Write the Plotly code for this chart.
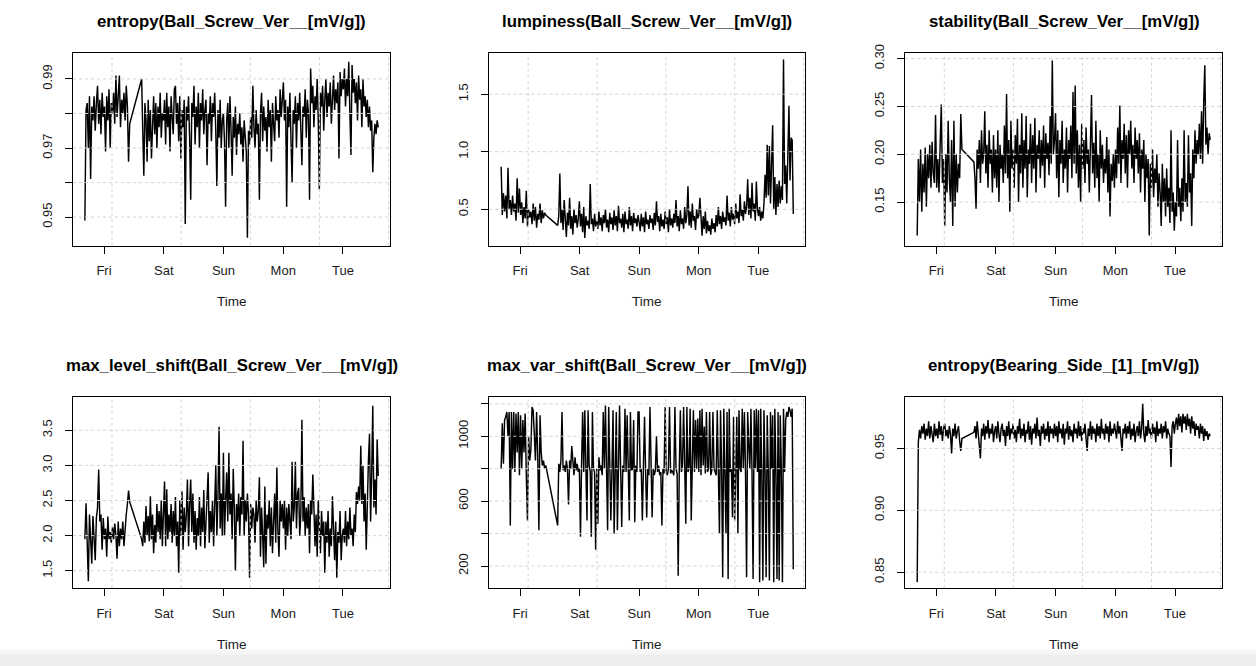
import numpy as np
import plotly.graph_objects as go

# ---------------- data (time in days, Fri 00:00 = 0) ----------------
seg_a_start, seg_a_end = -0.32, 0.43
seg_b_start, seg_b_end = 0.63, 4.59

day_ticks = [0, 1, 2, 3, 4]
day_labels = ["Fri", "Sat", "Sun", "Mon", "Tue"]

titles = [
    "entropy(Ball_Screw_Ver__[mV/g])",
    "lumpiness(Ball_Screw_Ver__[mV/g])",
    "stability(Ball_Screw_Ver__[mV/g])",
    "max_level_shift(Ball_Screw_Ver__[mV/g])",
    "max_var_shift(Ball_Screw_Ver__[mV/g])",
    "entropy(Bearing_Side_[1]_[mV/g])",
]

entropy_bs_a = [0.949, 0.981, 0.983, 0.970, 0.985, 0.961, 0.982, 0.978, 0.985, 0.975,
                0.983, 0.988, 0.977, 0.984, 0.974, 0.986, 0.979, 0.982, 0.969, 0.985,
                0.978, 0.987, 0.970, 0.983, 0.980, 0.986, 0.977, 0.991, 0.979, 0.985,
                0.991, 0.976, 0.984, 0.980, 0.986, 0.978, 0.988, 0.982, 0.966, 0.977]
entropy_bs_b = [0.990, 0.975, 0.962, 0.983, 0.978, 0.966, 0.984, 0.972, 0.981, 0.967,
                0.979, 0.985, 0.974, 0.983, 0.970, 0.982, 0.976, 0.986, 0.973, 0.980,
                # Sat
                0.978, 0.984, 0.971, 0.986, 0.976, 0.982, 0.969, 0.985, 0.979, 0.974, 0.987,
                0.988, 0.977, 0.983, 0.972, 0.985, 0.967, 0.981, 0.976, 0.984, 0.948, 0.982,
                0.978, 0.985, 0.973, 0.955, 0.983, 0.979, 0.988, 0.971, 0.982, 0.976, 0.986,
                0.970, 0.983, 0.978, 0.987, 0.974, 0.981, 0.984, 0.965, 0.980, 0.977, 0.985,
                0.972, 0.983, 0.979, 0.986, 0.975, 0.959, 0.981, 0.973, 0.984, 0.970, 0.978,
                # Sun
                0.980, 0.972, 0.953, 0.978, 0.983, 0.970, 0.985, 0.975, 0.962, 0.979, 0.973,
                0.982, 0.968, 0.977, 0.974, 0.980, 0.971, 0.976, 0.966, 0.978, 0.973, 0.969,
                0.944, 0.975, 0.971, 0.979, 0.973, 0.988, 0.976, 0.970, 0.981, 0.974, 0.977,
                0.955, 0.980, 0.986, 0.972, 0.982, 0.975, 0.979, 0.969, 0.984, 0.976, 0.981,
                0.966, 0.983, 0.977, 0.972, 0.985, 0.978, 0.981, 0.973, 0.987, 0.979, 0.984,
                # Mon
                0.989, 0.978, 0.984, 0.953, 0.982, 0.976, 0.986, 0.972, 0.960, 0.981, 0.977,
                0.985, 0.970, 0.983, 0.978, 0.986, 0.974, 0.965, 0.982, 0.979, 0.987, 0.973,
                0.984, 0.980, 0.955, 0.993, 0.983, 0.988, 0.976, 0.985, 0.981, 0.990, 0.978,
                0.958, 0.986, 0.982, 0.988, 0.975, 0.984, 0.990, 0.979, 0.986, 0.982, 0.989,
                0.977, 0.985, 0.991, 0.981, 0.987, 0.983, 0.989, 0.967, 0.992, 0.985, 0.990,
                # Tue
                0.987, 0.993, 0.982, 0.990, 0.985, 0.995, 0.980, 0.968, 0.994, 0.986, 0.990,
                0.983, 0.989, 0.978, 0.991, 0.984, 0.987, 0.976, 0.990, 0.982, 0.985, 0.979,
                0.984, 0.976, 0.982, 0.975, 0.978, 0.963, 0.973, 0.977, 0.974, 0.978, 0.976]

lumpiness_a = [0.87, 0.45, 0.64, 0.48, 0.62, 0.42, 0.86, 0.50, 0.58, 0.45,
               0.62, 0.48, 0.55, 0.40, 0.77, 0.47, 0.68, 0.45, 0.56, 0.38,
               0.52, 0.42, 0.66, 0.35, 0.50, 0.43, 0.48, 0.37, 0.55, 0.40,
               0.52, 0.34, 0.46, 0.41, 0.55, 0.38, 0.49, 0.42, 0.47, 0.45]
lumpiness_b = [0.36, 0.44, 0.81, 0.38, 0.50, 0.32, 0.58, 0.40, 0.26, 0.47,
               0.36, 0.60, 0.33, 0.44, 0.28, 0.50, 0.38, 0.45, 0.34, 0.42,
               # Sat
               0.57, 0.35, 0.46, 0.30, 0.52, 0.25, 0.44, 0.36, 0.40, 0.33, 0.72,
               0.37, 0.42, 0.31, 0.46, 0.35, 0.40, 0.33, 0.48, 0.36, 0.43, 0.31,
               0.45, 0.38, 0.50, 0.34, 0.41, 0.30, 0.47, 0.37, 0.43, 0.32, 0.49,
               0.36, 0.44, 0.31, 0.53, 0.38, 0.42, 0.34, 0.46, 0.30, 0.48, 0.37,
               0.41, 0.33, 0.52, 0.36, 0.44, 0.31, 0.47, 0.38, 0.42, 0.35, 0.45,
               # Sun
               0.39, 0.31, 0.46, 0.35, 0.43, 0.30, 0.48, 0.37, 0.41, 0.33, 0.45,
               0.38, 0.42, 0.32, 0.47, 0.36, 0.57, 0.39, 0.44, 0.31, 0.46, 0.35,
               0.41, 0.33, 0.48, 0.37, 0.43, 0.30, 0.50, 0.36, 0.42, 0.34, 0.46,
               0.38, 0.58, 0.35, 0.44, 0.31, 0.49, 0.37, 0.42, 0.33, 0.52, 0.38,
               0.45, 0.70, 0.36, 0.48, 0.34, 0.55, 0.40, 0.44, 0.32, 0.50, 0.42,
               # Mon
               0.45, 0.60, 0.38, 0.27, 0.44, 0.33, 0.48, 0.29, 0.40, 0.31, 0.36,
               0.28, 0.42, 0.33, 0.38, 0.30, 0.45, 0.35, 0.52, 0.37, 0.44, 0.33,
               0.48, 0.39, 0.43, 0.36, 0.62, 0.40, 0.47, 0.35, 0.52, 0.41, 0.46,
               0.37, 0.55, 0.42, 0.48, 0.38, 0.63, 0.44, 0.50, 0.40, 0.57, 0.46,
               0.52, 0.76, 0.45, 0.60, 0.42, 0.73, 0.48, 0.55, 0.40, 0.74, 0.50,
               # Tue
               0.44, 0.52, 0.40, 0.48, 0.42, 0.55, 0.80, 0.60, 1.06, 0.62, 1.05,
               0.55, 0.90, 1.23, 0.50, 0.78, 0.45, 0.72, 0.52, 0.75, 0.55, 0.70,
               0.58, 1.80, 0.72, 0.88, 0.55, 1.15, 1.40, 0.75, 1.12, 1.10, 0.46]

stability_a = [0.115, 0.195, 0.150, 0.205, 0.140, 0.190, 0.160, 0.207, 0.145, 0.200,
               0.175, 0.210, 0.165, 0.213, 0.180, 0.170, 0.241, 0.165, 0.195, 0.160,
               0.210, 0.252, 0.170, 0.195, 0.125, 0.200, 0.160, 0.235, 0.175, 0.150,
               0.215, 0.125, 0.235, 0.145, 0.200, 0.160, 0.190, 0.175, 0.242, 0.205]
stability_b = [0.192, 0.175, 0.143, 0.205, 0.185, 0.215, 0.170, 0.225, 0.190, 0.200,
               0.245, 0.180, 0.210, 0.165, 0.225, 0.190, 0.205, 0.160, 0.220, 0.175,
               # Sat
               0.205, 0.165, 0.225, 0.150, 0.210, 0.185, 0.200, 0.170, 0.230, 0.180, 0.263,
               0.175, 0.215, 0.140, 0.235, 0.185, 0.205, 0.165, 0.220, 0.190, 0.237, 0.150,
               0.210, 0.180, 0.243, 0.165, 0.215, 0.185, 0.240, 0.155, 0.205, 0.190, 0.232,
               0.170, 0.220, 0.185, 0.238, 0.160, 0.210, 0.195, 0.225, 0.175, 0.215, 0.188,
               0.230, 0.165, 0.222, 0.195, 0.212, 0.178, 0.240, 0.190, 0.298, 0.200, 0.215,
               # Sun
               0.243, 0.175, 0.225, 0.155, 0.215, 0.190, 0.235, 0.170, 0.205, 0.185, 0.228,
               0.160, 0.215, 0.195, 0.230, 0.175, 0.265, 0.190, 0.272, 0.180, 0.225, 0.165,
               0.210, 0.150, 0.232, 0.185, 0.215, 0.170, 0.228, 0.190, 0.205, 0.160, 0.220,
               0.262, 0.180, 0.212, 0.165, 0.235, 0.175, 0.200, 0.150, 0.225, 0.185, 0.210,
               0.170, 0.195, 0.180, 0.218, 0.160, 0.205, 0.135, 0.190, 0.172, 0.200, 0.165,
               # Mon
               0.205, 0.175, 0.228, 0.190, 0.251, 0.170, 0.215, 0.195, 0.232, 0.180, 0.220,
               0.165, 0.225, 0.200, 0.235, 0.185, 0.210, 0.170, 0.228, 0.195, 0.215, 0.180,
               0.222, 0.160, 0.205, 0.185, 0.215, 0.150, 0.200, 0.175, 0.195, 0.115, 0.190,
               0.165, 0.205, 0.155, 0.185, 0.170, 0.200, 0.145, 0.180, 0.160, 0.125, 0.190,
               0.150, 0.175, 0.135, 0.185, 0.145, 0.165, 0.128, 0.225, 0.140, 0.160, 0.120,
               # Tue
               0.150, 0.135, 0.215, 0.145, 0.165, 0.130, 0.175, 0.140, 0.225, 0.150, 0.170,
               0.145, 0.220, 0.160, 0.180, 0.125, 0.205, 0.175, 0.225, 0.190, 0.215, 0.200,
               0.232, 0.195, 0.245, 0.190, 0.255, 0.293, 0.210, 0.228, 0.200, 0.222, 0.215]

level_shift_a = [1.95, 2.46, 1.90, 1.35, 2.30, 1.85, 1.60, 2.28, 1.95, 1.65,
                 2.25, 2.40, 2.94, 2.20, 2.30, 1.80, 2.25, 1.95, 2.10, 1.70,
                 2.27, 1.95, 2.05, 1.90, 2.12, 1.95, 2.17, 2.00, 1.67, 2.20,
                 1.85, 2.10, 1.95, 2.20, 1.85, 2.15, 2.30, 2.45, 2.64, 2.48]
level_shift_b = [1.95, 1.85, 2.20, 1.90, 2.42, 2.00, 2.28, 1.92, 2.56, 1.95,
                 2.30, 1.75, 2.15, 1.90, 2.45, 2.05, 2.35, 1.95, 2.50, 1.85,
                 # Sat
                 2.50, 2.77, 1.85, 2.66, 1.95, 2.30, 2.05, 2.45, 1.90, 2.35, 2.00,
                 2.55, 1.85, 2.20, 1.47, 2.50, 2.00, 2.63, 1.80, 2.40, 2.05, 2.30,
                 2.80, 1.85, 2.45, 2.80, 2.05, 2.60, 1.90, 2.35, 1.80, 2.25, 2.00,
                 2.55, 1.85, 2.40, 2.05, 2.65, 1.82, 2.20, 2.45, 2.90, 1.90, 2.35,
                 2.05, 2.50, 1.85, 2.30, 3.00, 2.00, 2.55, 3.55, 2.10, 2.60, 2.00,
                 # Sun
                 3.18, 2.00, 2.50, 2.90, 2.20, 3.18, 2.30, 2.60, 1.95, 2.95, 2.40,
                 1.50, 2.45, 2.20, 2.60, 2.00, 2.55, 2.30, 3.35, 2.00, 2.50, 2.20,
                 2.60, 2.30, 1.40, 2.45, 2.10, 2.40, 2.30, 1.90, 2.50, 2.20, 2.35,
                 2.83, 1.70, 2.40, 2.00, 1.55, 2.70, 1.60, 2.30, 2.10, 2.50, 1.85,
                 2.40, 1.75, 2.20, 2.60, 1.90, 2.97, 2.05, 1.70, 2.50, 2.20, 2.45,
                 # Mon
                 2.10, 2.50, 1.80, 2.40, 2.00, 2.45, 2.20, 1.95, 3.05, 2.20, 2.40,
                 3.05, 2.10, 2.60, 2.68, 2.00, 2.30, 3.65, 2.20, 2.55, 2.00, 2.40,
                 2.10, 2.45, 1.75, 2.50, 2.30, 2.87, 2.40, 1.85, 2.30, 1.70, 2.50,
                 2.05, 1.75, 2.35, 2.00, 2.20, 1.47, 2.20, 1.90, 2.35, 1.70, 2.10,
                 1.85, 2.56, 1.95, 1.65, 2.20, 1.40, 2.05, 1.90, 2.35, 1.65, 2.00,
                 # Tue
                 2.10, 1.90, 2.35, 1.85, 2.20, 1.95, 2.40, 2.00, 2.10, 1.85, 2.30,
                 2.05, 2.62, 2.45, 2.70, 2.50, 3.28, 2.45, 3.00, 2.20, 2.60, 1.80,
                 2.70, 3.07, 3.45, 2.20, 2.90, 3.85, 2.40, 2.80, 2.30, 3.37, 2.85]

var_shift_a = [800, 1080, 830, 1100, 1120, 1150, 1000, 1150, 450, 1150,
               800, 1150, 780, 1140, 900, 1150, 760, 1130, 800, 1100,
               900, 1140, 760, 480, 1000, 850, 920, 1180, 1160, 1000,
               850, 1150, 880, 420, 1130, 900, 820, 850, 800, 820]
var_shift_b = [450, 830, 780, 850, 1150, 790, 820, 780, 850, 800,
               580, 850, 800, 940, 820, 760, 870, 790, 830, 780,
               # Sat
               800, 380, 820, 1150, 780, 1160, 800, 480, 1160, 820, 780,
               380, 1150, 800, 780, 300, 800, 460, 870, 790, 820, 760,
               1150, 800, 1190, 780, 420, 1180, 800, 480, 790, 1160, 400,
               800, 1150, 420, 780, 1190, 800, 440, 820, 780, 1170, 780,
               1130, 800, 480, 1150, 790, 800, 1100, 470, 820, 780, 1150,
               # Sun
               1150, 780, 800, 480, 820, 1120, 780, 500, 800, 760, 1180,
               780, 500, 800, 760, 790, 1000, 780, 820, 760, 780, 450,
               800, 770, 1180, 780, 760, 800, 1180, 770, 790, 780, 760,
               1180, 800, 770, 140, 800, 1160, 780, 820, 1180, 760, 460,
               1180, 780, 800, 1170, 480, 790, 1160, 780, 1100, 800, 1110,
               # Mon
               780, 1160, 760, 1170, 820, 1060, 770, 1150, 780, 800, 1150,
               760, 790, 1150, 800, 770, 760, 1160, 780, 400, 1160, 800,
               130, 1170, 780, 400, 1150, 120, 1170, 780, 800, 500, 1120,
               480, 780, 1120, 400, 1160, 800, 780, 1170, 800, 1150, 780,
               130, 1150, 950, 800, 1170, 780, 120, 1160, 800, 1170, 780,
               # Tue
               1160, 100, 1170, 780, 110, 1160, 800, 130, 1130, 780, 110,
               1150, 800, 1130, 100, 1170, 780, 120, 1150, 110, 1130, 800,
               100, 1170, 780, 1100, 1150, 1120, 1180, 1160, 1120, 1170, 180]

entropy_bear_a = [0.842, 0.955, 0.965, 0.958, 0.968, 0.962, 0.970, 0.957, 0.966, 0.960,
                  0.972, 0.958, 0.968, 0.962, 0.955, 0.970, 0.960, 0.966, 0.958, 0.972,
                  0.961, 0.968, 0.956, 0.966, 0.970, 0.960, 0.965, 0.958, 0.968, 0.962,
                  0.946, 0.966, 0.960, 0.970, 0.958, 0.964, 0.968, 0.956, 0.948, 0.958]
entropy_bear_b = [0.963, 0.968, 0.958, 0.972, 0.960, 0.955, 0.942, 0.966, 0.960, 0.970,
                  0.957, 0.968, 0.962, 0.973, 0.958, 0.966, 0.962, 0.970, 0.955, 0.964,
                  # Sat
                  0.968, 0.958, 0.972, 0.962, 0.955, 0.966, 0.970, 0.960, 0.965, 0.952, 0.968,
                  0.960, 0.972, 0.957, 0.966, 0.962, 0.970, 0.958, 0.965, 0.955, 0.968, 0.962,
                  0.974, 0.958, 0.966, 0.960, 0.970, 0.955, 0.965, 0.962, 0.972, 0.957, 0.968,
                  0.953, 0.966, 0.962, 0.970, 0.958, 0.975, 0.960, 0.965, 0.952, 0.968, 0.962,
                  0.970, 0.957, 0.966, 0.960, 0.972, 0.955, 0.968, 0.962, 0.966, 0.958, 0.970,
                  # Sun
                  0.960, 0.968, 0.955, 0.972, 0.962, 0.966, 0.958, 0.970, 0.953, 0.966, 0.962,
                  0.972, 0.957, 0.968, 0.960, 0.965, 0.955, 0.970, 0.962, 0.966, 0.958, 0.972,
                  0.960, 0.968, 0.956, 0.966, 0.962, 0.970, 0.958, 0.948, 0.966, 0.960, 0.972,
                  0.957, 0.968, 0.962, 0.966, 0.955, 0.970, 0.960, 0.968, 0.958, 0.974, 0.962,
                  0.966, 0.957, 0.970, 0.962, 0.968, 0.955, 0.972, 0.960, 0.966, 0.962, 0.970,
                  # Mon
                  0.965, 0.958, 0.972, 0.962, 0.968, 0.955, 0.948, 0.966, 0.962, 0.970, 0.958,
                  0.968, 0.962, 0.972, 0.957, 0.966, 0.960, 0.970, 0.955, 0.964, 0.968, 0.960,
                  0.972, 0.958, 0.966, 0.986, 0.962, 0.955, 0.968, 0.960, 0.973, 0.962, 0.966,
                  0.958, 0.970, 0.962, 0.967, 0.955, 0.972, 0.960, 0.966, 0.962, 0.970, 0.958,
                  0.968, 0.963, 0.972, 0.958, 0.966, 0.962, 0.960, 0.935, 0.968, 0.972, 0.962,
                  # Tue
                  0.970, 0.975, 0.965, 0.978, 0.968, 0.976, 0.963, 0.978, 0.970, 0.976, 0.965,
                  0.978, 0.968, 0.974, 0.962, 0.976, 0.966, 0.972, 0.960, 0.970, 0.965, 0.968,
                  0.958, 0.970, 0.962, 0.968, 0.956, 0.966, 0.960, 0.964, 0.957, 0.962, 0.960]

series = [
    (entropy_bs_a, entropy_bs_b),
    (lumpiness_a, lumpiness_b),
    (stability_a, stability_b),
    (level_shift_a, level_shift_b),
    (var_shift_a, var_shift_b),
    (entropy_bear_a, entropy_bear_b),
]

y_ticks = [
    ([0.95, 0.96, 0.97, 0.98, 0.99], ["0.95", "", "0.97", "", "0.99"]),
    ([0.5, 1.0, 1.5], ["0.5", "1.0", "1.5"]),
    ([0.15, 0.20, 0.25, 0.30], ["0.15", "0.20", "0.25", "0.30"]),
    ([1.5, 2.0, 2.5, 3.0, 3.5], ["1.5", "2.0", "2.5", "3.0", "3.5"]),
    ([200, 400, 600, 800, 1000, 1200], ["200", "", "600", "", "1000", ""]),
    ([0.85, 0.90, 0.95], ["0.85", "0.90", "0.95"]),
]

# ---------------- layout ----------------
W, H = 1256, 666
y_ranges = [[0.9417, 0.9974], [0.183, 1.854], [0.1043, 0.3055],
            [1.253, 3.978], [64, 1244], [0.8372, 0.9918]]
x_range = [-0.519, 4.787]
grid_x0, grid_dx = 0.134, 100000 / 86400.0

col_px = [(73, 390), (489.3, 805), (905.3, 1222)]
row_px = [(45, 240), (393, 587)]
title_y_px = [13, 361.5]
xlab_y_px = [297, 644]

FONT = "Liberation Sans, Arial, Helvetica, sans-serif"
TXT = "#1a1a1a"
GRID = "#d3d3d3"

fig = go.Figure()
layout = dict(width=W, height=H, margin=dict(l=0, r=0, t=0, b=0),
              paper_bgcolor="white", plot_bgcolor="white", showlegend=False,
              font=dict(family=FONT, color=TXT, size=13))
annotations, shapes = [], []

for i, ((va, vb), (tv, tt), yr) in enumerate(zip(series, y_ticks, y_ranges)):
    r, c = divmod(i, 3)
    s = "" if i == 0 else str(i + 1)
    ta = np.linspace(seg_a_start, seg_a_end, len(va))
    tb = np.linspace(seg_b_start, seg_b_end, len(vb))
    t = np.concatenate([ta, tb])
    v = list(va) + list(vb)
    fig.add_trace(go.Scatter(x=t, y=v, mode="lines", xaxis="x" + s, yaxis="y" + s,
                             line=dict(color="black", width=1.45), hoverinfo="skip"))
    x0p, x1p = col_px[c]
    y0p, y1p = row_px[r]
    layout["xaxis" + s] = dict(domain=[x0p / W, x1p / W], anchor="y" + s, range=x_range,
                               tickmode="array", tickvals=day_ticks, ticktext=day_labels,
                               ticks="outside", ticklen=7, tickcolor="black", tickwidth=1,
                               showline=True, linecolor="black", linewidth=1, mirror=True,
                               showgrid=False, zeroline=False, ticklabelstandoff=6,
                               tickfont=dict(size=13, color=TXT, family=FONT))
    layout["yaxis" + s] = dict(domain=[1 - y1p / H, 1 - y0p / H], anchor="x" + s, range=yr,
                               tickmode="array", tickvals=tv, ticktext=tt, tickangle=-90,
                               ticks="outside", ticklen=7, tickcolor="black", tickwidth=1,
                               showline=True, linecolor="black", linewidth=1, mirror=True,
                               showgrid=False, zeroline=False, ticklabelstandoff=8,
                               tickfont=dict(size=13, color=TXT, family=FONT))
    # dotted grid drawn on top of the data (as in R's grid())
    for yv in tv:
        shapes.append(dict(type="line", xref="x" + s + " domain", yref="y" + s, x0=0, x1=1,
                           y0=yv, y1=yv, layer="above",
                           line=dict(color=GRID, width=1, dash="dot")))
    k = 0
    while grid_x0 + k * grid_dx < x_range[1]:
        gx = grid_x0 + k * grid_dx
        shapes.append(dict(type="line", xref="x" + s, yref="y" + s + " domain", x0=gx, x1=gx,
                           y0=0, y1=1, layer="above",
                           line=dict(color=GRID, width=1, dash="dot")))
        k += 1
    cx = (x0p + x1p) / 2 / W
    annotations.append(dict(text="<b>" + titles[i] + "</b>", x=cx, y=1 - title_y_px[r] / H,
                            xref="paper", yref="paper", showarrow=False, xanchor="center",
                            yanchor="middle", font=dict(size=16.8, color="black", family=FONT)))
    annotations.append(dict(text="Time", x=cx, y=1 - xlab_y_px[r] / H, xref="paper", yref="paper",
                            showarrow=False, xanchor="center", yanchor="middle",
                            font=dict(size=13.5, color=TXT, family=FONT)))

# light gray strip at the very bottom of the page
shapes.append(dict(type="rect", xref="paper", yref="paper", x0=0, x1=1, y0=0, y1=1 - 654 / H,
                   fillcolor="#ededed", line=dict(width=0), layer="below"))
shapes.append(dict(type="rect", xref="paper", yref="paper", x0=0, x1=1, y0=1 - 654 / H,
                   y1=1 - 650 / H, fillcolor="#f6f6f6", line=dict(width=0), layer="below"))

layout["annotations"] = annotations
layout["shapes"] = shapes
fig.update_layout(**layout)
fig.write_html("out.html", config={"displayModeBar": False},
               post_script="document.body.style.margin='0';document.body.style.overflow='hidden';")
